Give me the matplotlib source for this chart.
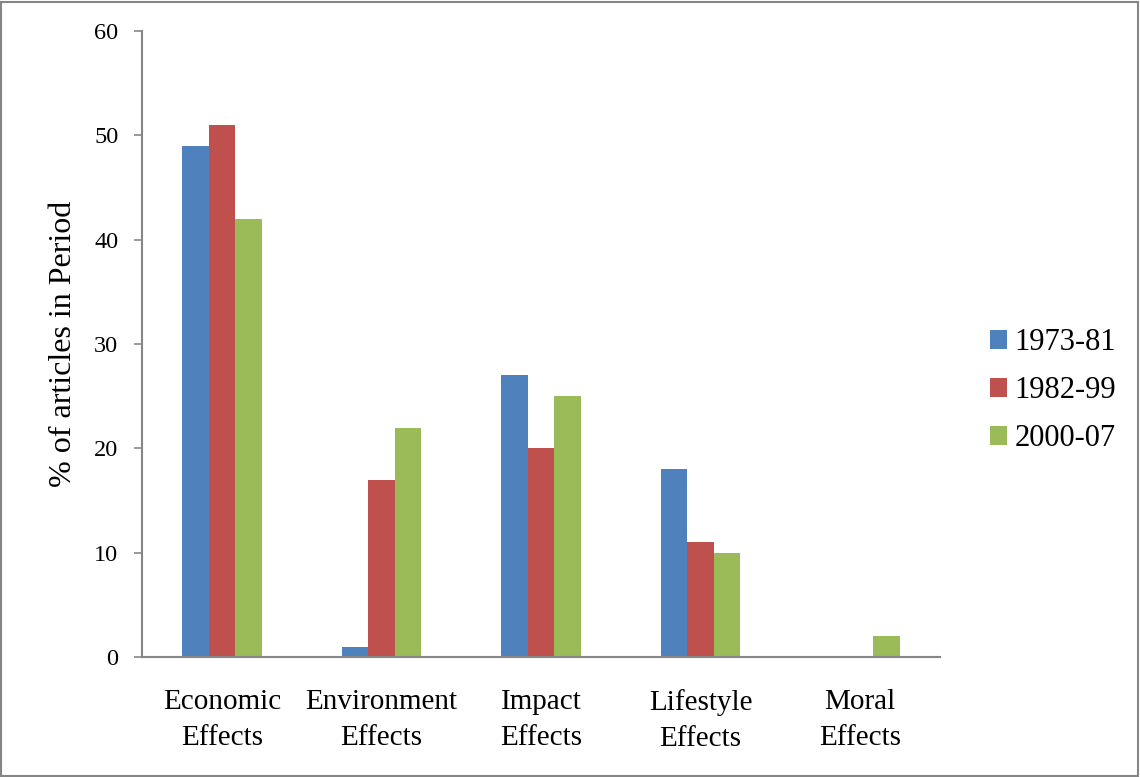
import numpy as np
import matplotlib
matplotlib.use("Agg")
import matplotlib.pyplot as plt
from matplotlib.patches import Rectangle

plt.rcParams["font.family"] = ["Liberation Serif", "DejaVu Serif"]

# -----------------------------
# Data
# -----------------------------

categories = ["Economic\nEffects", "Environment\nEffects", "Impact\nEffects",
              "Lifestyle\nEffects", "Moral\nEffects"]
periods = ["1973-81", "1982-99", "2000-07"]
vals_1973 = [49, 1, 27, 18, 0]
vals_1982 = [51, 17, 20, 11, 0]
vals_2000 = [42, 22, 25, 10, 2]
yticks = [0, 10, 20, 30, 40, 50, 60]

colors = ["#4F81BD", "#C0504D", "#9BBB59"]
axis_grey = "#868686"

# -----------------------------
# Plot
# -----------------------------

fig = plt.figure(figsize=(11.4, 7.77), dpi=100)
ax = fig.add_axes([0.1246, 0.1544, 0.70, 0.8056])

x = np.arange(len(categories))
w = 0.166
series = [vals_1973, vals_1982, vals_2000]
for i, vals in enumerate(series):
    ax.bar(x + (i - 1) * w, vals, width=w, color=colors[i], label=periods[i])

ax.set_xlim(-0.5, len(categories) - 0.5)
ax.set_ylim(0, 60)
ax.set_yticks(yticks)
ax.set_xticks(x)
ax.set_xticklabels(categories, fontsize=21, linespacing=1.5)
ax.tick_params(axis="x", length=0, pad=23)
ax.tick_params(axis="y", labelsize=17.5, length=6, width=1.2,
               color=axis_grey, pad=11)

for s in ["top", "right"]:
    ax.spines[s].set_visible(False)
for s in ["left", "bottom"]:
    ax.spines[s].set_color(axis_grey)
    ax.spines[s].set_linewidth(1.5)

ax.set_ylabel("% of articles in Period", fontsize=23, labelpad=12)

fig.legend(loc="center left", bbox_to_anchor=(0.855, 0.497), frameon=False,
           fontsize=22, handlelength=0.55, handleheight=0.55,
           handletextpad=0.25, labelspacing=0.62, borderpad=0)

# image border
fig.patches.append(Rectangle((0.001, 0.001), 0.997, 0.997,
                             transform=fig.transFigure, fill=False,
                             edgecolor=axis_grey, linewidth=1.5))

plt.savefig("out.png", dpi=100)
